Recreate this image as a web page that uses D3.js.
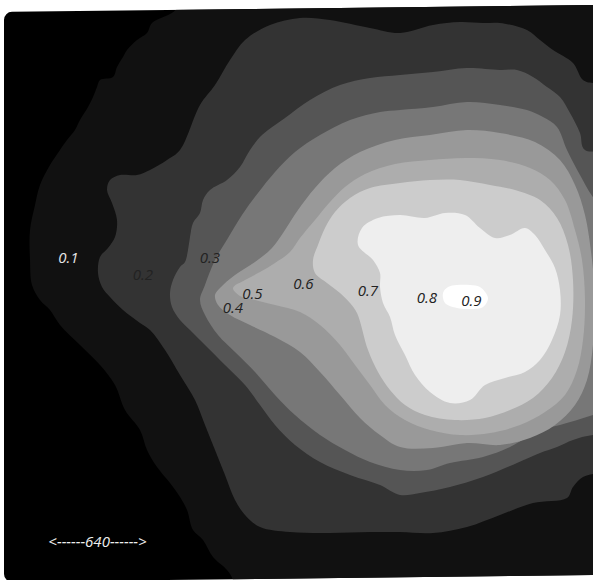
<!DOCTYPE html>
<html><head><meta charset="utf-8">
<script src="https://cdn.jsdelivr.net/npm/d3@7"></script>
<style>html,body{margin:0;padding:0;background:#fff;}svg{display:block;}</style>
</head><body>
<script>
// ---- data (map units) ----
const levels = [0.1,0.2,0.3,0.4,0.5,0.6,0.7,0.8,0.9];
const labelText = ["0.1","0.2","0.3","0.4","0.5","0.6","0.7","0.8","0.9"];
const labelX = [68.5,143,210,233,252.5,303.5,368,427,471.5];
const labelY = [263,280,263,313,299,289,296,303,306];
const scaleBarText = "<------640------>";

const outline01 = [[177,-30],[177,8],[152,23],[147,33],[137,40],[127,50],[123,57],[117,67],[113,77],[100,80],[97,87],[93,97],[88,107],[80,120],[75,130],[67,140],[60,150],[50,165],[40,185],[35,205],[30,230],[30,260],[32,285],[40,300],[50,310],[60,325],[80,345],[100,365],[115,385],[125,410],[140,430],[147,450],[157,467],[170,483],[180,497],[187,510],[193,530],[203,540],[213,557],[227,570],[233,580],[240,620],[700,620],[700,-30]];
const outline02 = [[650,80],[593,83],[583,80],[573,63],[553,50],[540,40],[527,30],[500,23],[483,23],[460,22],[433,25],[400,33],[370,28],[330,20],[300,18],[270,25],[245,40],[230,60],[215,85],[200,105],[180,150],[167,160],[150,170],[137,175],[120,175],[110,180],[107,190],[112,203],[117,220],[115,237],[108,248],[100,257],[98,273],[102,287],[110,297],[123,310],[140,323],[150,330],[165,350],[180,375],[195,400],[205,425],[215,450],[225,475],[235,500],[245,515],[260,527],[290,532],[330,533],[370,532],[400,532],[433,533],[467,527],[500,515],[533,503],[567,498],[573,487],[583,477],[600,473],[650,473]];
const outline03 = [[650,150],[585,150],[580,133],[570,113],[560,97],[547,87],[533,77],[517,70],[500,70],[467,68],[433,72],[400,75],[370,78],[340,85],[310,100],[285,118],[262,135],[250,150],[240,167],[227,180],[210,190],[203,200],[200,213],[193,223],[190,237],[188,250],[185,262],[180,267],[173,280],[170,293],[172,307],[180,320],[190,330],[205,345],[225,365],[245,385],[260,405],[275,425],[295,445],[320,462],[350,475],[380,485],[400,495],[420,493],[450,487],[483,477],[517,463],[540,453],[557,447],[573,440],[593,435],[650,435]];
const outline04 = [[205,285],[215,260],[228,238],[242,215],[258,193],[275,172],[295,152],[320,135],[350,120],[380,112],[400,110],[433,107],[467,102],[500,105],[527,110],[543,117],[557,127],[567,150],[580,175],[595,200],[640,250],[640,400],[593,415],[560,425],[540,430],[527,437],[510,447],[483,457],[450,463],[427,470],[400,470],[370,462],[345,450],[320,435],[295,415],[275,395],[255,372],[235,352],[218,335],[205,315],[200,300]];
const outline05 = [[220,288],[235,275],[255,262],[272,248],[285,230],[298,210],[315,188],[335,168],[360,152],[395,140],[430,135],[467,130],[500,133],[535,142],[560,160],[575,185],[585,215],[592,260],[595,300],[593,345],[587,380],[575,405],[555,425],[530,438],[500,445],[467,443],[433,448],[400,447],[380,435],[360,418],[340,395],[320,372],[300,352],[275,337],[250,325],[230,315],[218,305],[215,295]];
const outline06 = [[233,288],[245,280],[260,272],[275,263],[290,252],[300,238],[315,220],[330,202],[345,187],[365,174],[395,164],[430,160],[465,158],[500,160],[530,168],[550,180],[565,200],[575,230],[582,260],[585,300],[583,340],[577,370],[565,395],[545,412],[520,425],[490,433],[460,435],[430,430],[405,420],[385,405],[370,385],[355,365],[340,345],[320,325],[300,312],[275,305],[255,300],[240,296]];
const outline07 = [[313,260],[318,245],[325,228],[335,212],[350,198],[370,188],[400,183],[430,180],[460,180],[490,185],[515,190],[540,200],[557,218],[568,245],[573,280],[572,320],[565,352],[552,378],[533,398],[510,410],[485,418],[455,420],[425,415],[405,405],[390,390],[378,372],[368,350],[357,313],[350,303],[340,293],[327,283],[315,273]];
const outline08 = [[373,260],[380,273],[380,287],[383,303],[390,317],[395,335],[405,355],[415,375],[430,392],[450,403],[470,400],[485,385],[505,378],[525,372],[540,360],[552,340],[560,315],[560,290],[555,268],[545,250],[535,235],[525,228],[510,235],[495,238],[480,228],[465,215],[445,213],[425,218],[400,215],[378,218],[362,228],[358,245]];
const outline09 = [[457,285],[470,285],[480,287],[488,298],[483,307],[470,309],[457,308],[445,303],[443,293],[448,287]];
const outlines = [outline01,outline02,outline03,outline04,outline05,outline06,outline07,outline08,outline09];

// ---- drawing ----
const W = 593, H = 580;
const palette = ["#111111","#333333","#555555","#777777","#999999","#adadad","#cccccc","#eeeeee","#ffffff"];
const x = d3.scaleLinear().domain([0, 593]).range([0, W]);
const y = d3.scaleLinear().domain([0, 580]).range([0, H]);

const svg = d3.select("body").append("svg").attr("width", W).attr("height", H);
svg.append("rect").attr("width", W).attr("height", H).attr("fill", "#fff");

const skew = "matrix(1,-0.012,0,1,0,0)";
const defs = svg.append("defs");
defs.append("clipPath").attr("id","frame")
  .append("rect").attr("x",4).attr("y",12).attr("width",640).attr("height",570).attr("rx",8)
  .attr("transform", skew);

svg.append("rect").attr("x",4).attr("y",12).attr("width",640).attr("height",570).attr("rx",8)
  .attr("transform", skew).attr("fill","#000");

const g = svg.append("g").attr("clip-path","url(#frame)");
const line = d3.line().x(d => x(d[0])).y(d => y(d[1])).curve(d3.curveCatmullRomClosed.alpha(0.5));
g.selectAll("path.band").data(outlines).join("path")
  .attr("class","band")
  .attr("d", d => line(d))
  .attr("fill", (d,i) => palette[i]);

svg.append("g").selectAll("text").data(levels).join("text")
  .attr("x", (d,i) => x(labelX[i]))
  .attr("y", (d,i) => y(labelY[i]))
  .attr("text-anchor","middle")
  .attr("font-family","'Open Sans', sans-serif")
  .attr("font-style","italic")
  .attr("font-size", 15)
  .attr("fill", (d,i) => i === 0 ? "#e6e6e6" : "#222")
  .text((d,i) => labelText[i]);

svg.append("text")
  .attr("x", x(97.5)).attr("y", y(547))
  .attr("text-anchor","middle")
  .attr("font-family","'Open Sans', sans-serif")
  .attr("font-style","italic")
  .attr("font-size", 15)
  .attr("fill","#eeeeee")
  .text(scaleBarText);
</script>
</body></html>
